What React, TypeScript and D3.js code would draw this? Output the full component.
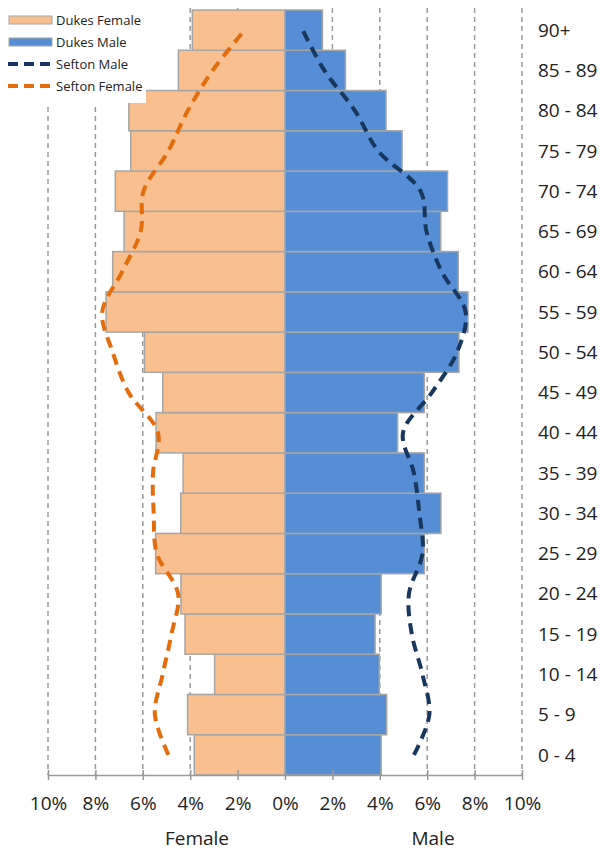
import React, { useEffect, useRef } from "react";
import * as d3 from "d3";

// age bands, bottom to top
const ageBands = [
  "0 - 4", "5 - 9", "10 - 14", "15 - 19", "20 - 24", "25 - 29", "30 - 34",
  "35 - 39", "40 - 44", "45 - 49", "50 - 54", "55 - 59", "60 - 64", "65 - 69",
  "70 - 74", "75 - 79", "80 - 84", "85 - 89", "90+",
];

// percent of population per band
const dukesFemale = [3.83, 4.11, 2.97, 4.22, 4.39, 5.46, 4.4, 4.3, 5.44, 5.16, 5.93, 7.55, 7.27, 6.79, 7.16, 6.51, 6.59, 4.5, 3.91];
const dukesMale = [4.06, 4.29, 3.98, 3.8, 4.06, 5.88, 6.58, 5.88, 4.75, 5.88, 7.34, 7.72, 7.31, 6.57, 6.86, 4.94, 4.26, 2.55, 1.58];
const seftonMale = [5.44, 6.09, 5.8, 5.35, 5.23, 5.8, 5.67, 5.44, 4.98, 6.2, 7.26, 7.62, 6.61, 5.97, 5.72, 3.93, 2.95, 1.66, 0.75];
const seftonFemale = [4.92, 5.49, 5.16, 4.79, 4.51, 5.41, 5.54, 5.57, 5.36, 6.6, 7.27, 7.71, 6.87, 6.09, 5.97, 4.92, 4.1, 3.05, 1.7];

const xTicks = [-10, -8, -6, -4, -2, 0, 2, 4, 6, 8, 10];

const FONT = "'Open Sans', sans-serif";
const FEMALE_FILL = "#F9BF8F";
const MALE_FILL = "#558ED5";
const SEFTON_F = "#E46C0A";
const SEFTON_M = "#17375E";

const App = () => {
  const svgRef = useRef<SVGSVGElement>(null);
  const width = 604;
  const height = 851;

  useEffect(() => {
    const svg = d3.select(svgRef.current);
    svg.selectAll("*").remove();

    const x = d3.scaleLinear().domain([-10, 10]).range([48, 522]);
    const y = d3
      .scaleBand()
      .domain([...ageBands].reverse())
      .range([10, 775])
      .padding(0);
    const yMid = (a: string) => (y(a) as number) + y.bandwidth() / 2;

    // dashed vertical grid
    svg
      .append("g")
      .selectAll("line")
      .data(xTicks.filter((t) => t !== 0))
      .join("line")
      .attr("x1", (d) => x(d))
      .attr("x2", (d) => x(d))
      .attr("y1", 8)
      .attr("y2", 775)
      .attr("stroke", "#9a9a9a")
      .attr("stroke-width", 1.5)
      .attr("stroke-dasharray", "5 4");

    // female bars
    svg
      .append("g")
      .selectAll("rect")
      .data(ageBands)
      .join("rect")
      .attr("x", (_, i) => x(-dukesFemale[i]))
      .attr("y", (d) => y(d) as number)
      .attr("width", (_, i) => x(0) - x(-dukesFemale[i]))
      .attr("height", y.bandwidth())
      .attr("fill", FEMALE_FILL)
      .attr("stroke", "#A6A6A6")
      .attr("stroke-width", 1.5);

    // male bars
    svg
      .append("g")
      .selectAll("rect")
      .data(ageBands)
      .join("rect")
      .attr("x", x(0))
      .attr("y", (d) => y(d) as number)
      .attr("width", (_, i) => x(dukesMale[i]) - x(0))
      .attr("height", y.bandwidth())
      .attr("fill", MALE_FILL)
      .attr("stroke", "#A6A6A6")
      .attr("stroke-width", 1.5);

    // sefton lines, smoothed
    const lineF = d3
      .line<string>()
      .x((_, i) => x(-seftonFemale[i]))
      .y((d) => yMid(d))
      .curve(d3.curveCatmullRom);
    const lineM = d3
      .line<string>()
      .x((_, i) => x(seftonMale[i]))
      .y((d) => yMid(d))
      .curve(d3.curveCatmullRom);

    svg
      .append("path")
      .datum(ageBands)
      .attr("d", lineF)
      .attr("fill", "none")
      .attr("stroke", SEFTON_F)
      .attr("stroke-width", 4)
      .attr("stroke-dasharray", "11 7");

    svg
      .append("path")
      .datum(ageBands)
      .attr("d", lineM)
      .attr("fill", "none")
      .attr("stroke", SEFTON_M)
      .attr("stroke-width", 4)
      .attr("stroke-dasharray", "11 7");

    // x axis
    const xAxis = svg
      .append("g")
      .attr("transform", "translate(0, 775)")
      .call(
        d3
          .axisBottom(x)
          .tickValues(xTicks)
          .tickSizeOuter(0)
          .tickFormat((d) => `${Math.abs(+d)}%`)
      );
    xAxis.select(".domain").attr("stroke", "#999").attr("stroke-width", 1.5);
    xAxis
      .selectAll(".tick line")
      .attr("y1", -5)
      .attr("y2", 5)
      .attr("stroke", "#999")
      .attr("stroke-width", 1.5);
    xAxis
      .selectAll(".tick text")
      .attr("y", 22)
      .attr("fill", "#222")
      .style("font-size", "19px")
      .style("font-family", FONT);

    // category labels on the right
    svg
      .append("g")
      .selectAll("text")
      .data(ageBands)
      .join("text")
      .attr("x", 538)
      .attr("y", (d) => yMid(d))
      .attr("dy", "0.35em")
      .attr("fill", "#222")
      .style("font-size", "19px")
      .style("font-family", FONT)
      .text((d) => d);

    // side titles
    svg
      .append("text")
      .attr("x", 197)
      .attr("y", 845)
      .attr("text-anchor", "middle")
      .attr("fill", "#222")
      .style("font-size", "19px")
      .style("font-family", FONT)
      .text("Female");
    svg
      .append("text")
      .attr("x", 433)
      .attr("y", 845)
      .attr("text-anchor", "middle")
      .attr("fill", "#222")
      .style("font-size", "19px")
      .style("font-family", FONT)
      .text("Male");

    // legend
    const legend = svg.append("g");
    legend
      .append("rect")
      .attr("x", 0)
      .attr("y", 0)
      .attr("width", 146)
      .attr("height", 103)
      .attr("fill", "#fff");

    const items = [
      { label: "Dukes Female", kind: "bar", color: FEMALE_FILL },
      { label: "Dukes Male", kind: "bar", color: MALE_FILL },
      { label: "Sefton Male", kind: "line", color: SEFTON_M },
      { label: "Sefton Female", kind: "line", color: SEFTON_F },
    ];
    items.forEach((it, i) => {
      const cy = 20 + i * 22;
      if (it.kind === "bar") {
        legend
          .append("rect")
          .attr("x", 9)
          .attr("y", cy - 4)
          .attr("width", 43)
          .attr("height", 8)
          .attr("fill", it.color)
          .attr("stroke", "#A6A6A6")
          .attr("stroke-width", 1);
      } else {
        legend
          .append("line")
          .attr("x1", 8)
          .attr("x2", 52)
          .attr("y1", cy)
          .attr("y2", cy)
          .attr("stroke", it.color)
          .attr("stroke-width", 4)
          .attr("stroke-dasharray", "10 6");
      }
      legend
        .append("text")
        .attr("x", 56)
        .attr("y", cy)
        .attr("dy", "0.35em")
        .attr("fill", "#222")
        .style("font-size", "13px")
        .style("font-family", FONT)
        .text(it.label);
    });
  }, []);

  return (
    <svg
      ref={svgRef}
      width={width}
      height={height}
      style={{ position: "absolute", left: 0, top: 0, background: "#fff" }}
    ></svg>
  );
};

export default App;
